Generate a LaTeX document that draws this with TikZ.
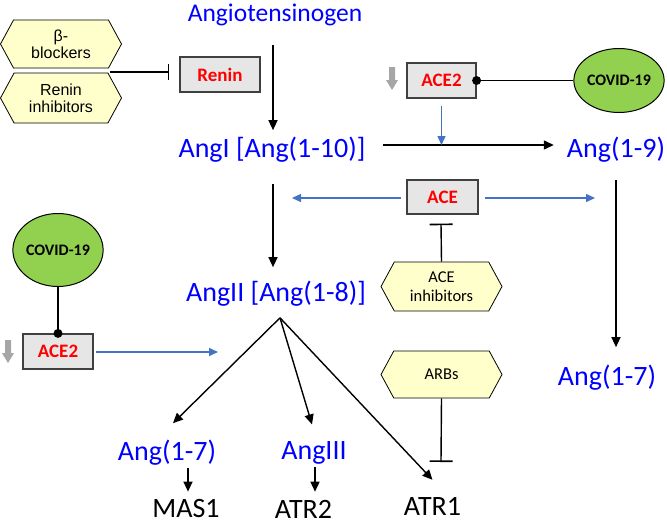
\documentclass[tikz,border=0pt]{standalone}
\usepackage{fontspec}
\setmainfont{Carlito}
\newfontfamily\arialf{Liberation Sans}
\usetikzlibrary{arrows.meta,calc,shapes.geometric,shapes.symbols}
\definecolor{txtblue}{RGB}{0,0,255}
\definecolor{linkblue}{RGB}{68,114,196}
\definecolor{boxfill}{RGB}{231,230,230}
\definecolor{boxline}{RGB}{64,64,64}
\definecolor{hexfill}{RGB}{255,255,204}
\definecolor{virus}{RGB}{146,208,80}
\definecolor{greyarr}{RGB}{166,166,166}
\begin{document}
\begin{tikzpicture}[x=1pt,y=-1pt,
 lbl/.style={inner sep=0pt,text=txtblue,font=\fontsize{28}{30}\selectfont},
 blk/.style={inner sep=0pt,text=black,font=\fontsize{28}{30}\selectfont},
 enz/.style={draw=boxline,line width=1.2pt,fill=boxfill,minimum width=70pt,minimum height=35pt,inner sep=0pt,text=red,font=\fontsize{19}{21}\selectfont\bfseries},
 drug/.style={shape=signal,signal to=east and west,signal pointer angle=123,draw=black,line width=0.8pt,fill=hexfill,minimum width=121pt,minimum height=48pt,inner sep=0pt,align=center},
 virusn/.style={ellipse,draw=black,line width=1pt,fill=virus,inner sep=0pt,font=\fontsize{16}{18}\selectfont\bfseries},
 arr/.style={line width=1.4pt,-{Triangle[length=10pt,width=9pt]}},
 barr/.style={draw=linkblue,line width=1.4pt,-{Triangle[length=9pt,width=8pt]}},
 inh/.style={line width=1.4pt,-{Bar[width=23pt,line width=1.6pt]}},
 gdown/.style={fill=greyarr,draw=none}]
\useasboundingbox (0,0) rectangle (667,528);

% labels
\node[lbl,font=\fontsize{25.5}{28}\selectfont] (agt) at (275,15) {Angiotensinogen};
\node[lbl] (angI) at (272,150) {AngI [Ang(1-10)]};
\node[lbl] (ang19) at (616,150) {Ang(1-9)};
\node[lbl] (angII) at (276,294) {AngII [Ang(1-8)]};
\node[lbl] (ang17r) at (607,378) {Ang(1-7)};
\node[lbl] (ang17l) at (167,453) {Ang(1-7)};
\node[lbl] (ang3) at (314,453) {AngIII};
\node[blk] (mas1) at (186,509) {MAS1};
\node[blk] (atr2) at (303.5,509) {ATR2};
\node[blk] (atr1) at (432.5,506) {ATR1};

% enzymes
\node[enz,minimum width=80pt] (renin) at (220,74.5) {Renin};
\node[enz,minimum width=69pt] (ace2a) at (441.5,80.5) {ACE2};
\node[enz,minimum width=71pt,minimum height=34pt] (ace) at (442.5,197) {ACE};
\node[enz] (ace2b) at (58,351.5) {ACE2};

% drugs
\node[drug,font=\arialf\fontsize{16}{17}\selectfont] (beta) at (61,44) {β-\\blockers};
\node[drug,font=\arialf\fontsize{16}{17}\selectfont,minimum height=50pt] (rinh) at (61,98) {Renin\\inhibitors};
\node[drug,font=\fontsize{16.5}{19}\selectfont,minimum height=49pt] (acei) at (441.5,286.5) {ACE\\inhibitors};
\node[drug,font=\fontsize{16.5}{19}\selectfont,minimum height=47pt] (arbs) at (441.5,374.5) {ARBs};

% virus
\node[virusn,minimum width=82pt,minimum height=64pt] (cov1) at (619,80.5) {COVID-19};
\node[virusn,minimum width=82pt,minimum height=73pt] (cov2) at (58,250) {COVID-19};

% free ends
\coordinate (bjoin) at (110,72);
\coordinate (aceL) at (292,198);
\coordinate (aceR) at (595,198);
\coordinate (ace2T) at (218,352);
\coordinate (arbT) at (441,462);
\coordinate (g1) at (392,79);
\coordinate (g2) at (8,352);

% main cascade
\draw[arr] ($(agt.south -| angI.north)+(1,19)$) -- ($(angI.north)+(1,-7)$);
\draw[arr] ($(angI.south)+(1,21)$) -- ($(angI.south |- angII.north)+(1,-14)$);
\draw[arr] ($(angI.east)+(17,-5)$) -- ($(ang19.west)+(-13,-5)$);
\draw[arr] ($(ang19.south)+(0,17)$) -- ($(ang19.south |- ang17r.north)+(0,-18)$);
\draw[arr] ($(angII.south)+(4,11)$) -- ($(ang17l.north)+(6,-17)$);
\draw[arr] ($(angII.south)+(4,11)$) -- ($(ang3.north)+(-2,-17)$);
\draw[arr] ($(angII.south)+(4,11)$) -- ($(atr1.north)+(0,-17)$);
\draw[arr] ($(ang17l.south -| mas1.north)+(2,2)$) -- ($(mas1.north)+(2,-8)$);
\draw[arr] ($(ang3.south)+(1,2)$) -- ($(ang3.south |- atr2.north)+(1,-8)$);

% enzyme actions
\draw[barr] ($(ace2a.south)+(0,7)$) -- ($(ace2a.south |- angI.east)+(0,-5)$);
\draw[barr] ($(ace.west)+(-5,1)$) -- (aceL);
\draw[barr] ($(ace.east)+(6,1)$) -- (aceR);
\draw[barr] ($(ace2b.east)+(2,0.5)$) -- (ace2T);

% inhibitions
\draw[inh,-{Bar[width=16pt,line width=1.6pt]}] (bjoin) -- ($(renin.west)+(-10,-2.5)$);
\draw[inh] (acei.north) -- ($(ace.south)+(-1.5,9)$);
\draw[inh] (arbs.south) -- (arbT);

% virus binding
\draw[line width=1.4pt] (cov1.west) -- (ace2a.east);
\fill (ace2a.east) circle[radius=4.5pt];
\draw[line width=1.4pt] (cov2.south) -- (ace2b.north);
\fill (ace2b.north) circle[radius=4.5pt];

% grey down arrows
\fill[gdown] (g1) ++(-3,-12) -- ++(6,0) -- ++(0,13) -- ++(3,0) -- ++(-6,10) -- ++(-6,-10) -- ++(3,0) -- cycle;
\fill[gdown] (g2) ++(-3,-12) -- ++(6,0) -- ++(0,13) -- ++(3,0) -- ++(-6,10) -- ++(-6,-10) -- ++(3,0) -- cycle;
\end{tikzpicture}
\end{document}
